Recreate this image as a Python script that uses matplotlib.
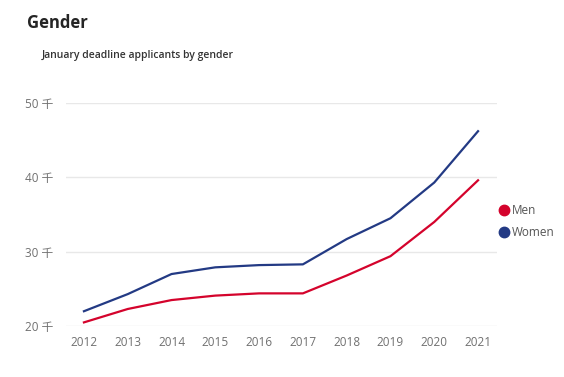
import matplotlib
matplotlib.use('Agg')
import matplotlib.pyplot as plt
from matplotlib.lines import Line2D

plt.rcParams['font.family'] = ['Open Sans', 'Noto Sans CJK SC', 'DejaVu Sans']

years = [2012, 2013, 2014, 2015, 2016, 2017, 2018, 2019, 2020, 2021]
men = [20.5, 22.3, 23.5, 24.1, 24.4, 24.4, 26.8, 29.4, 34.0, 39.6]
women = [22.0, 24.3, 27.0, 27.9, 28.2, 28.3, 31.7, 34.5, 39.3, 46.2]
yticks = [20, 30, 40, 50]
ylabels = ['20 千', '30 千', '40 千', '50 千']

men_color = '#d4032c'
women_color = '#233a84'

fig = plt.figure(figsize=(5.64, 3.77), dpi=100)
ax = fig.add_axes([0.117, 0.135, 0.764, 0.592])

ax.plot(years, women, color=women_color, linewidth=1.6)
ax.plot(years, men, color=men_color, linewidth=1.6)

ax.set_xlim(2011.59, 2021.43)
ax.set_ylim(20, 50)
ax.set_xticks(years)
ax.set_xticklabels([str(y) for y in years])
ax.set_yticks(yticks)
ax.set_yticklabels(ylabels)
ax.tick_params(axis='both', length=0, labelsize=8.5, colors='#707070')
ax.tick_params(axis='x', pad=7)
ax.tick_params(axis='y', pad=9)
ax.grid(axis='y', color='#e8e8e8', linewidth=1)
ax.set_axisbelow(True)
for s in ax.spines.values():
    s.set_visible(False)

fig.text(0.048, 0.94, 'Gender', fontsize=12, fontweight='bold', color='#252525', va='center')
fig.text(0.074, 0.853, 'January deadline applicants by gender', fontsize=7.5,
         fontweight='semibold', color='#333333', va='center')

handles = [Line2D([], [], linestyle='none', marker='o', markersize=7.5, color=men_color),
           Line2D([], [], linestyle='none', marker='o', markersize=7.5, color=women_color)]
fig.legend(handles, ['Men', 'Women'], loc='upper left', bbox_to_anchor=(0.868, 0.486),
           frameon=False, handlelength=0.6, handletextpad=0.35, labelspacing=0.75,
           fontsize=8.5, labelcolor='#555555')

fig.savefig('out.png', dpi=100)
